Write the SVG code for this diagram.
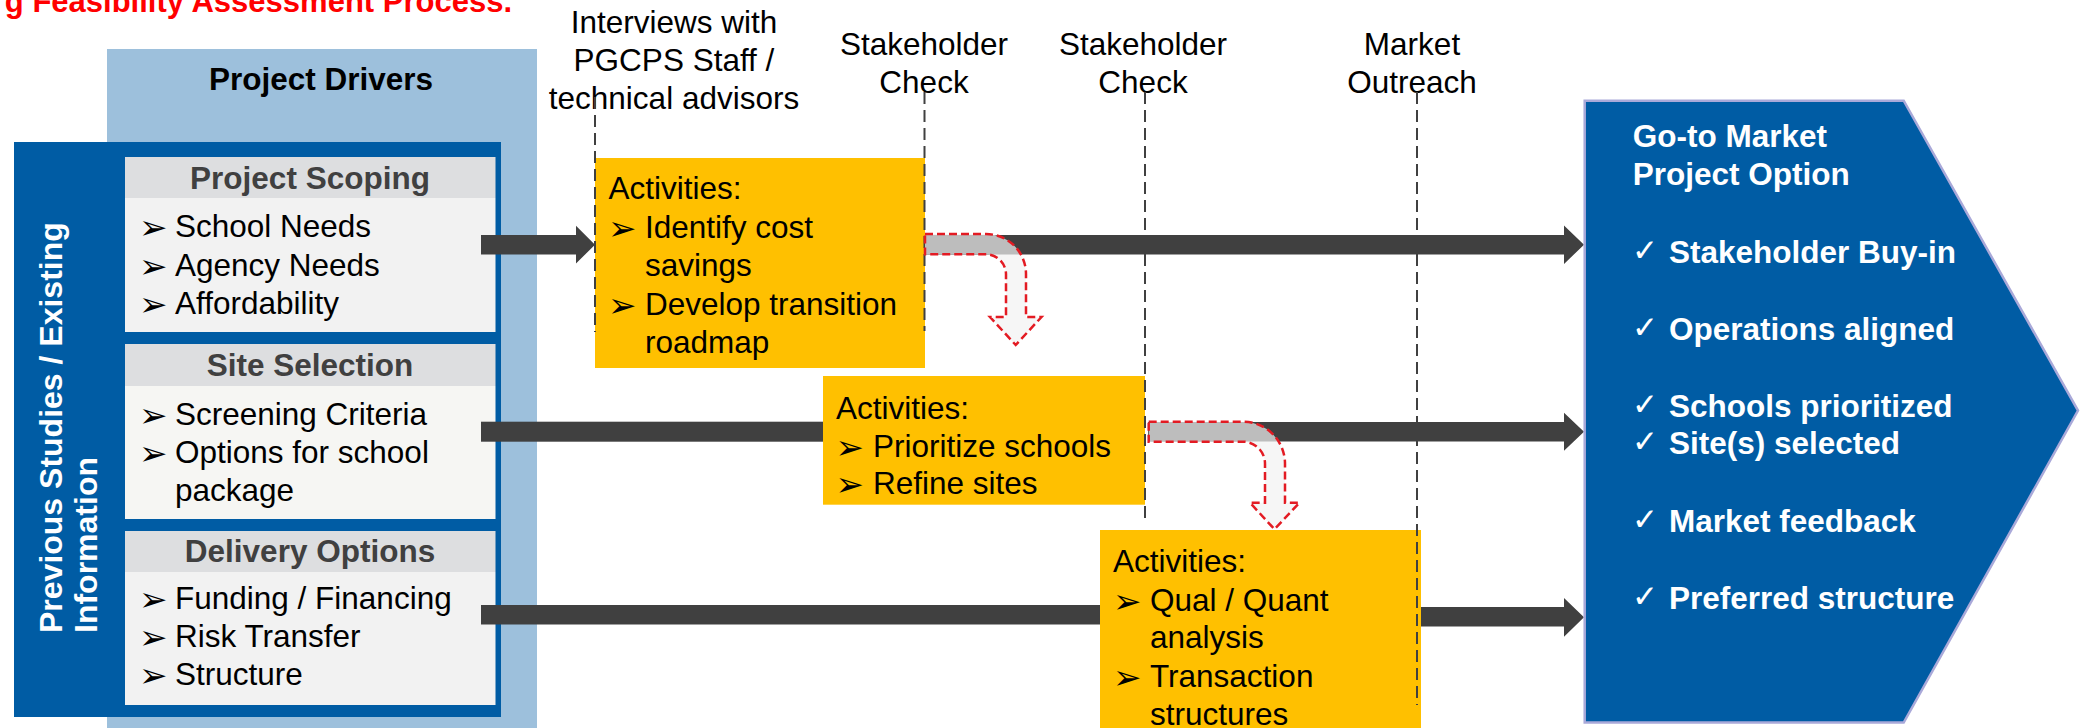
<svg xmlns="http://www.w3.org/2000/svg" width="2083" height="728" viewBox="0 0 2083 728">
<style>
text{font-family:"Liberation Sans",Arial,sans-serif;font-size:31.5px;fill:#000}
.b{font-weight:bold}
.w{fill:#fff}
.hd{font-weight:bold;fill:#404040;text-anchor:middle}
.mid{text-anchor:middle}
.bul{font-family:"DejaVu Sans",sans-serif;font-size:34px}
.chk{font-family:"DejaVu Sans",sans-serif;font-size:31px;fill:#fff}
.hdr{fill:#dddee0}
.body{fill:#f2f2f2}
.yel{fill:#ffc000}
.shaft{fill:#404040}
.dash{stroke:#404040;stroke-width:2;stroke-dasharray:12 6;fill:none}
.bent{fill:#f2f2f2;fill-opacity:0.7;stroke:#e31b23;stroke-width:2.5;stroke-dasharray:8 4}
</style>

<text class="b" x="512" y="11.7" text-anchor="end" style="fill:#ff0000;font-size:31px">g Feasibility Assessment Process.</text>

<g id="project-drivers">
<rect x="107" y="49" width="430" height="679" fill="#9dc0dc"/>
<text class="b mid" x="321" y="90">Project Drivers</text>
</g>

<g id="previous-studies">
<rect x="14" y="142" width="487" height="575" fill="#005ca4"/>
<text class="b w" style="font-size:32px" transform="translate(61.7,633) rotate(-90)">Previous Studies / Existing</text>
<text class="b w" style="font-size:32px" transform="translate(96.7,633) rotate(-90)">Information</text>
</g>

<g id="project-scoping">
<rect class="hdr" x="125" y="157" width="370.5" height="41"/>
<rect class="body" x="125" y="198" width="370.5" height="134"/>
<text class="hd" x="310" y="189">Project Scoping</text>
<text class="bul" x="139" y="239">➢</text><text x="175" y="237">School Needs</text>
<text class="bul" x="139" y="278">➢</text><text x="175" y="276">Agency Needs</text>
<text class="bul" x="139" y="316">➢</text><text x="175" y="314">Affordability</text>
</g>

<g id="site-selection">
<rect class="hdr" x="125" y="344" width="370.5" height="42"/>
<rect x="125" y="386" width="370.5" height="133" fill="#f6f6f3"/>
<text class="hd" x="310" y="376">Site Selection</text>
<text class="bul" x="139" y="427">➢</text><text x="175" y="425">Screening Criteria</text>
<text class="bul" x="139" y="465">➢</text><text x="175" y="463">Options for school</text>
<text x="175" y="501">package</text>
</g>

<g id="delivery-options">
<rect class="hdr" x="125" y="531" width="370.5" height="41"/>
<rect class="body" x="125" y="572" width="370.5" height="133"/>
<text class="hd" x="310" y="562">Delivery Options</text>
<text class="bul" x="139" y="611">➢</text><text x="175" y="609">Funding / Financing</text>
<text class="bul" x="139" y="649">➢</text><text x="175" y="647">Risk Transfer</text>
<text class="bul" x="139" y="687">➢</text><text x="175" y="685">Structure</text>
</g>

<g id="milestone-labels">
<text class="mid" x="674" y="33">Interviews with</text>
<text class="mid" x="674" y="71">PGCPS Staff /</text>
<text class="mid" x="674" y="109">technical advisors</text>
<text class="mid" x="924" y="55">Stakeholder</text>
<text class="mid" x="924" y="93">Check</text>
<text class="mid" x="1143" y="55">Stakeholder</text>
<text class="mid" x="1143" y="93">Check</text>
<text class="mid" x="1412" y="55">Market</text>
<text class="mid" x="1412" y="93">Outreach</text>
</g>

<g id="connectors">
<polygon class="shaft" points="481,235 576,235 576,225.7 595,244.7 576,263.5 576,254.5 481,254.5"/>
<polygon class="shaft" points="925,235 1564,235 1564,225.5 1584,244.7 1564,264 1564,254.5 925,254.5"/>
<rect class="shaft" x="481" y="421.7" width="342" height="20"/>
<polygon class="shaft" points="1148,422 1564,422 1564,412.7 1584,431.7 1564,450.7 1564,441.5 1148,441.5"/>
<rect class="shaft" x="481" y="605" width="619" height="19.5"/>
<polygon class="shaft" points="1421,607 1564,607 1564,598 1584,617.3 1564,636.7 1564,626.5 1421,626.5"/>
</g>

<g id="activities-1">
<rect class="yel" x="595" y="158" width="330" height="210"/>
<text x="608.6" y="199">Activities:</text>
<text class="bul" x="608" y="240">➢</text><text x="645" y="238">Identify cost</text>
<text x="645" y="276">savings</text>
<text class="bul" x="608" y="317">➢</text><text x="645" y="315">Develop transition</text>
<text x="645" y="353">roadmap</text>
</g>

<g id="activities-2">
<rect class="yel" x="823" y="376" width="322" height="128.7"/>
<text x="836" y="419">Activities:</text>
<text class="bul" x="835.6" y="459">➢</text><text x="873" y="457">Prioritize schools</text>
<text class="bul" x="835.6" y="496">➢</text><text x="873" y="494">Refine sites</text>
</g>

<g id="activities-3">
<rect class="yel" x="1100" y="530" width="321" height="198"/>
<text x="1113" y="572">Activities:</text>
<text class="bul" x="1113" y="613">➢</text><text x="1150" y="611">Qual / Quant</text>
<text x="1150" y="648">analysis</text>
<text class="bul" x="1113" y="689">➢</text><text x="1150" y="687">Transaction</text>
<text x="1150" y="725">structures</text>
</g>

<g id="timeline-markers">
<line class="dash" x1="595" y1="97" x2="595" y2="332"/>
<line class="dash" x1="924.5" y1="92" x2="924.5" y2="331"/>
<line class="dash" x1="1145" y1="92" x2="1145" y2="518"/>
<line class="dash" x1="1417" y1="92" x2="1417" y2="705"/>
</g>

<g id="bent-arrows">
<path class="bent" d="M925,234 H986 A40,40 0 0 1 1026,274 V317 H1041.5 L1015.7,345 L990,317 H1006 V274 A20,20 0 0 0 986,254.3 H925 Z"/>
<path class="bent" d="M1148.7,421.7 H1243 A42,42 0 0 1 1285,463.7 V502.7 H1299.5 L1274.5,529.3 L1250,502.7 H1265 V463.7 A22,22 0 0 0 1243,441.7 H1148.7 Z"/>
</g>

<g id="go-to-market">
<polygon points="1584.7,100.7 1903.7,100.7 2078,410.6 1903.7,722.6 1584.7,722.6" fill="#005ca4" stroke="#a9a9d9" stroke-width="2.5"/>
<text class="b w" x="1632.7" y="147.4">Go-to Market</text>
<text class="b w" x="1632.7" y="185.4">Project Option</text>
<text class="chk" x="1632" y="261">✓</text><text class="b w" x="1669" y="263">Stakeholder Buy-in</text>
<text class="chk" x="1632" y="338">✓</text><text class="b w" x="1669" y="340">Operations aligned</text>
<text class="chk" x="1632" y="415">✓</text><text class="b w" x="1669" y="417">Schools prioritized</text>
<text class="chk" x="1632" y="452">✓</text><text class="b w" x="1669" y="454">Site(s) selected</text>
<text class="chk" x="1632" y="530">✓</text><text class="b w" x="1669" y="532">Market feedback</text>
<text class="chk" x="1632" y="607">✓</text><text class="b w" x="1669" y="609">Preferred structure</text>
</g>
</svg>
